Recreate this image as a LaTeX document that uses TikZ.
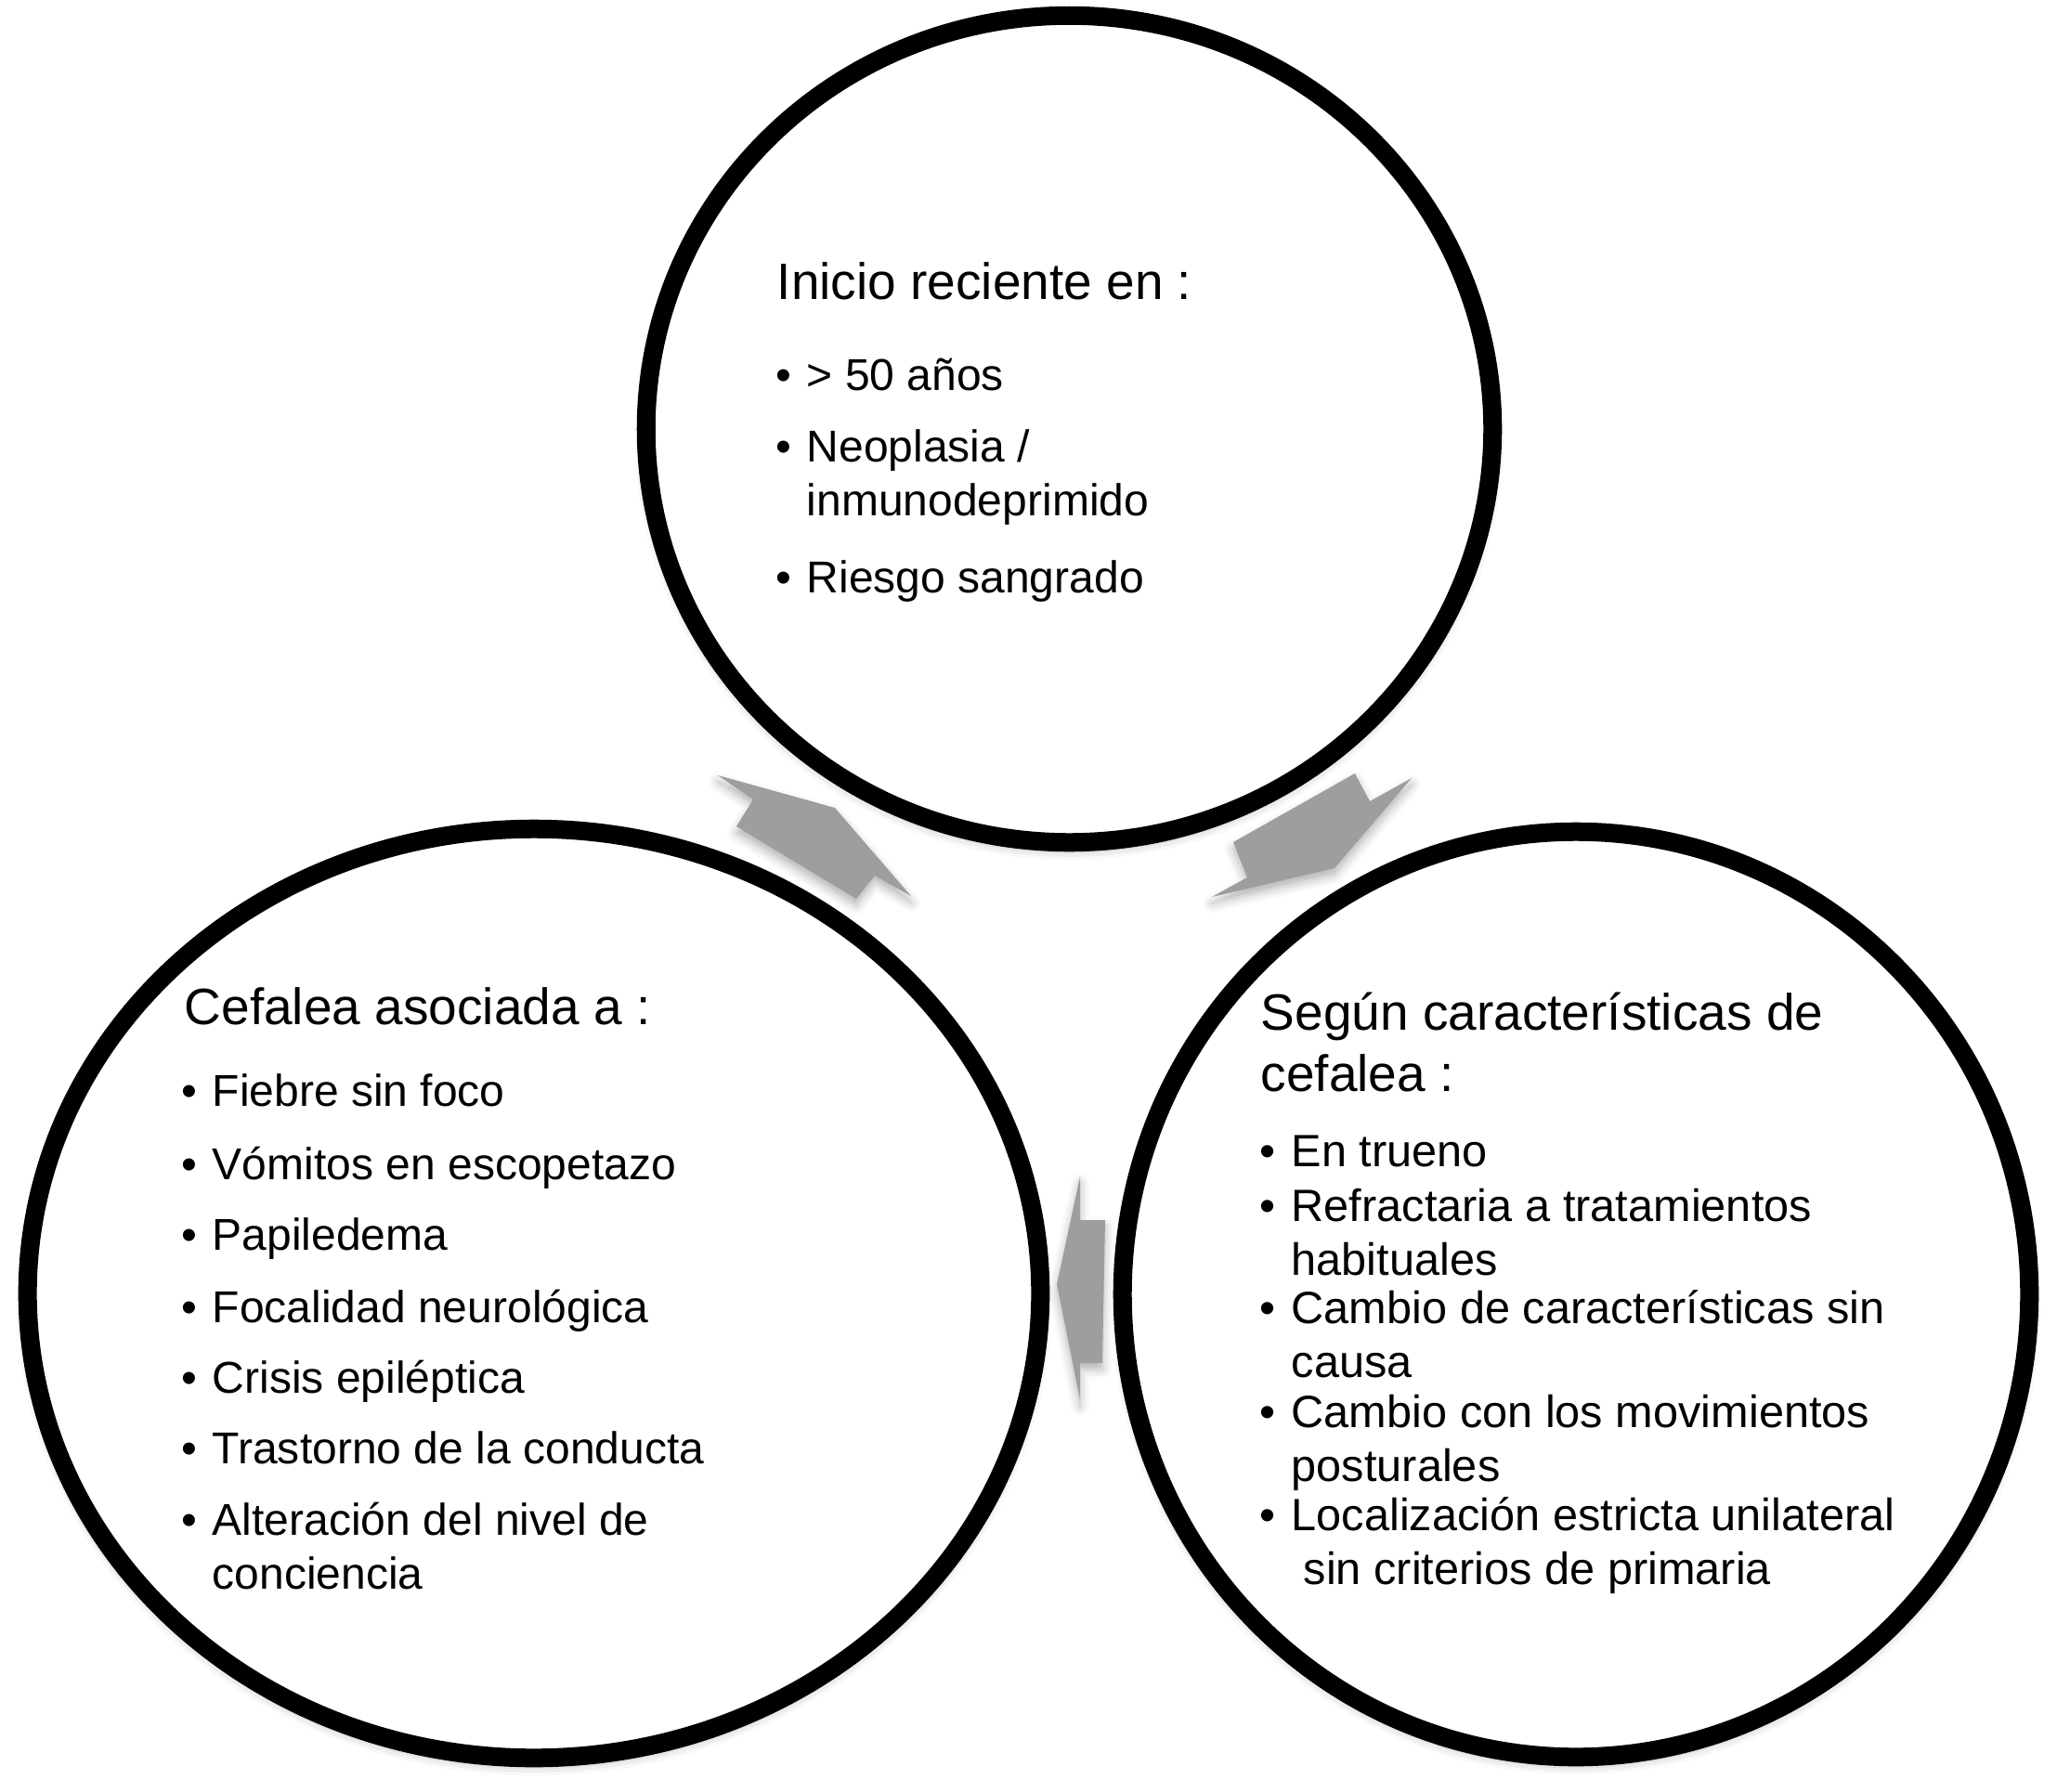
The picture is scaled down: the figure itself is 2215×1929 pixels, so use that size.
\documentclass[tikz,border=0pt]{standalone}
\usepackage{fontspec}
\setmainfont{Liberation Sans}
\usetikzlibrary{shapes.geometric,shadows.blur}
\definecolor{arrowgray}{RGB}{158,158,158}
\begin{document}
\begin{tikzpicture}[x=0.01cm,y=-0.01cm,
  bubble/.style={ellipse, draw=black, line width=0.2cm, fill=white, inner sep=0pt,
    blur shadow={shadow xshift=0pt, shadow yshift=-0.07cm, shadow blur radius=0.12cm, shadow opacity=35}},
  blockarrow/.style={fill=arrowgray, draw=none,
    blur shadow={shadow xshift=0pt, shadow yshift=-0.07cm, shadow blur radius=0.1cm, shadow opacity=30}},
  headtxt/.style={anchor=base west, inner sep=0pt, font=\fontsize{15.65pt}{18pt}\selectfont},
  itemtxt/.style={anchor=base west, inner sep=0pt, font=\fontsize{13.66pt}{16pt}\selectfont},
  ritemtxt/.style={anchor=base west, inner sep=0pt, font=\fontsize{13.85pt}{16pt}\selectfont},
]
\useasboundingbox (0,0) rectangle (2215,1929);

% circles
\node[bubble, minimum width=9.11cm, minimum height=8.90cm] (top) at (1151.5,462) {};
\node[bubble, minimum width=10.90cm, minimum height=10.00cm] (left) at (575,1393) {};
\node[bubble, minimum width=9.76cm, minimum height=9.96cm] (right) at (1697,1394) {};

% block arrows
\fill[blockarrow] (773,835) -- (899,870) -- (981,965) -- (942,943) -- (922,968) -- (793,890) -- (811,861) -- cycle;
\fill[blockarrow] (1520,838) -- (1437,935) -- (1305,966) -- (1343,945) -- (1328,907) -- (1459,833) -- (1475,863) -- cycle;
\fill[blockarrow] (1163,1267) -- (1138,1383) -- (1163,1508) -- (1163,1468) -- (1187,1468) -- (1190,1314) -- (1163,1314) -- cycle;

% top circle text
\node[headtxt] (th) at (836,322) {Inicio reciente en :};
\node[itemtxt] (tb1) at (835,420) {•};
\node[itemtxt] (t1) at (868,420) {> 50 años};
\node[itemtxt] (tb2) at (835,497) {•};
\node[itemtxt] (t2) at (868,497) {Neoplasia /};
\node[itemtxt] (t2b) at (868,555) {inmunodeprimido};
\node[itemtxt] (tb3) at (835,638) {•};
\node[itemtxt] (t3) at (868,638) {Riesgo sangrado};

% left circle text
\node[headtxt] (lh) at (198,1103) {Cefalea asociada a :};
\node[itemtxt] (lb1) at (195,1191) {•};
\node[itemtxt] (l1) at (228,1191) {Fiebre sin foco};
\node[itemtxt] (lb2) at (195,1270) {•};
\node[itemtxt] (l2) at (228,1270) {Vómitos en escopetazo};
\node[itemtxt] (lb3) at (195,1346) {•};
\node[itemtxt] (l3) at (228,1346) {Papiledema};
\node[itemtxt] (lb4) at (195,1424) {•};
\node[itemtxt] (l4) at (228,1424) {Focalidad neurológica};
\node[itemtxt] (lb5) at (195,1500) {•};
\node[itemtxt] (l5) at (228,1500) {Crisis epiléptica};
\node[itemtxt] (lb6) at (195,1576) {•};
\node[itemtxt] (l6) at (228,1576) {Trastorno de la conducta};
\node[itemtxt] (lb7) at (195,1653) {•};
\node[itemtxt] (l7) at (228,1653) {Alteración del nivel de};
\node[itemtxt] (l7b) at (228,1711) {conciencia};

% right circle text
\node[headtxt] (rh) at (1357,1109) {Según características de};
\node[headtxt] (rh2) at (1357,1175) {cefalea :};
\node[ritemtxt] (rb1) at (1356,1256) {•};
\node[ritemtxt] (r1) at (1390,1256) {En trueno};
\node[ritemtxt] (rb2) at (1356,1315) {•};
\node[ritemtxt] (r2) at (1390,1315) {Refractaria a tratamientos};
\node[ritemtxt] (r2b) at (1390,1373) {habituales};
\node[ritemtxt] (rb3) at (1356,1425) {•};
\node[ritemtxt] (r3) at (1390,1425) {Cambio de características sin};
\node[ritemtxt] (r3b) at (1390,1483) {causa};
\node[ritemtxt] (rb4) at (1356,1537) {•};
\node[ritemtxt] (r4) at (1390,1537) {Cambio con los movimientos};
\node[ritemtxt] (r4b) at (1390,1595) {posturales};
\node[ritemtxt] (rb5) at (1356,1648) {•};
\node[ritemtxt] (r5) at (1390,1648) {Localización estricta unilateral};
\node[ritemtxt] (r5b) at (1403,1706) {sin criterios de primaria};
\end{tikzpicture}
\end{document}
